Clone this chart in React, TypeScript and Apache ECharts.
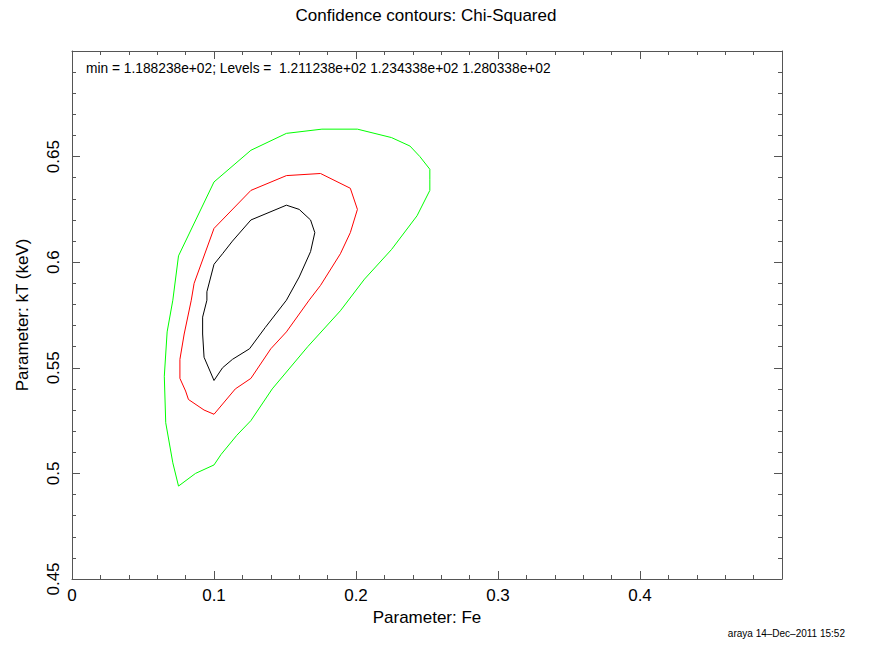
import React, { useEffect, useRef } from "react";
import * as echarts from "echarts";

const titleText = "Confidence contours: Chi-Squared";
const annotation = "min = 1.188238e+02; Levels =  1.211238e+02 1.234338e+02 1.280338e+02";
const footer = "araya 14\u2013Dec\u20132011 15:52";
const xName = "Parameter: Fe";
const yName = "Parameter: kT (keV)";

const xTicks = [0, 0.1, 0.2, 0.3, 0.4];
const yTicks = [0.45, 0.5, 0.55, 0.6, 0.65];

const levelNames = ["1.211238e+02", "1.234338e+02", "1.280338e+02"];
const levelColors = ["#000000", "#ff0000", "#00ff00"];

const blackContour: number[][] = [
  [0.100, 0.544], [0.106, 0.550], [0.113, 0.554], [0.125, 0.559], [0.136, 0.569],
  [0.151, 0.582], [0.160, 0.593], [0.168, 0.605], [0.171, 0.614], [0.168, 0.620],
  [0.160, 0.625], [0.151, 0.627], [0.126, 0.620], [0.113, 0.610], [0.106, 0.604],
  [0.100, 0.599], [0.095, 0.586], [0.095, 0.582], [0.092, 0.574], [0.092, 0.566],
  [0.093, 0.555], [0.100, 0.544],
];

const redContour: number[][] = [
  [0.100, 0.528], [0.115, 0.540], [0.126, 0.545], [0.140, 0.559], [0.151, 0.567],
  [0.167, 0.582], [0.175, 0.589], [0.189, 0.604], [0.196, 0.614], [0.201, 0.625],
  [0.196, 0.635], [0.175, 0.642], [0.151, 0.641], [0.126, 0.634], [0.100, 0.616],
  [0.086, 0.590], [0.084, 0.582], [0.079, 0.566], [0.076, 0.554], [0.076, 0.545],
  [0.080, 0.539], [0.082, 0.535], [0.093, 0.530], [0.100, 0.528],
];

const greenContour: number[][] = [
  [0.075, 0.494], [0.087, 0.500], [0.100, 0.504], [0.105, 0.509], [0.116, 0.518],
  [0.126, 0.525], [0.141, 0.540], [0.166, 0.560], [0.189, 0.577], [0.206, 0.592],
  [0.225, 0.606], [0.243, 0.622], [0.252, 0.634], [0.252, 0.639], [0.252, 0.644],
  [0.245, 0.650], [0.238, 0.655], [0.225, 0.659], [0.201, 0.663], [0.176, 0.663],
  [0.151, 0.661], [0.126, 0.653], [0.100, 0.638], [0.075, 0.603], [0.071, 0.582],
  [0.067, 0.567], [0.065, 0.546], [0.066, 0.524], [0.071, 0.505], [0.075, 0.494],
];

const contours = [blackContour, redContour, greenContour];

const FONT = "'Liberation Sans', Arial, Helvetica, sans-serif";
const AXIS_COLOR = "#555555";

export default function App() {
  const ref = useRef<HTMLDivElement>(null);

  useEffect(() => {
    if (!ref.current) return;
    const chart = echarts.init(ref.current, undefined, { renderer: "svg" });
    const gridLeft = 72;
    const gridTop = 51;
    const gridRight = 91;
    const gridBottom = 70;

    const fmt = (list: number[]) => (v: number) => {
      const hit = list.find((t) => Math.abs(t - v) < 1e-9);
      return hit === undefined ? "" : String(hit);
    };

    const baseX = {
      type: "value" as const,
      min: 0,
      max: 0.5,
      interval: 0.1,
      axisLine: { show: true, onZero: false, lineStyle: { color: AXIS_COLOR, width: 1 } },
      axisTick: { show: true, inside: true, length: 8, lineStyle: { color: AXIS_COLOR } },
      minorTick: { show: true, splitNumber: 5, length: 4, lineStyle: { color: AXIS_COLOR } },
      splitLine: { show: false },
    };
    const baseY = {
      type: "value" as const,
      min: 0.45,
      max: 0.7,
      interval: 0.05,
      axisLine: { show: true, onZero: false, lineStyle: { color: AXIS_COLOR, width: 1 } },
      axisTick: { show: true, inside: true, length: 8, lineStyle: { color: AXIS_COLOR } },
      minorTick: { show: true, splitNumber: 5, length: 4, lineStyle: { color: AXIS_COLOR } },
      splitLine: { show: false },
    };

    chart.setOption({
      animation: false,
      backgroundColor: "#ffffff",
      grid: { left: gridLeft, top: gridTop, right: gridRight, bottom: gridBottom, containLabel: false },
      xAxis: [
        {
          ...baseX,
          position: "bottom",
          name: xName,
          nameLocation: "middle",
          nameGap: 26,
          nameTextStyle: { color: "#000", fontSize: 17, fontFamily: FONT },
          axisLabel: {
            show: true,
            color: "#000",
            fontSize: 17,
            fontFamily: FONT,
            margin: 8,
            formatter: fmt(xTicks),
          },
        },
        {
          ...baseX,
          position: "top",
          axisLabel: { show: false },
        },
      ],
      yAxis: [
        {
          ...baseY,
          position: "left",
          name: yName,
          nameLocation: "middle",
          nameGap: 41,
          nameRotate: 90,
          nameTextStyle: { color: "#000", fontSize: 17, fontFamily: FONT },
          axisLabel: {
            show: true,
            rotate: 90,
            color: "#000",
            fontSize: 17,
            fontFamily: FONT,
            margin: 10,
            formatter: fmt(yTicks),
          },
        },
        {
          ...baseY,
          position: "right",
          axisLabel: { show: false },
        },
      ],
      series: contours.map((c, i) => ({
        type: "line",
        name: levelNames[i],
        data: c,
        xAxisIndex: 0,
        yAxisIndex: 0,
        showSymbol: false,
        symbol: "none",
        smooth: false,
        lineStyle: { color: levelColors[i], width: 1 },
        z: 3 - i,
      })),
      graphic: [
        {
          type: "text",
          x: 426,
          y: 7,
          style: {
            text: titleText,
            fill: "#000",
            font: `17px ${FONT}`,
            textAlign: "center",
            textVerticalAlign: "top",
          },
        },
        {
          type: "text",
          x: 86,
          y: 61,
          style: {
            text: annotation,
            fill: "#000",
            font: `13.75px ${FONT}`,
            textAlign: "left",
            textVerticalAlign: "top",
          },
        },
        {
          type: "text",
          x: 845,
          y: 628,
          style: {
            text: footer,
            fill: "#000",
            font: `10px ${FONT}`,
            textAlign: "right",
            textVerticalAlign: "top",
          },
        },
      ],
    });

    return () => chart.dispose();
  }, []);

  return (
    <div
      ref={ref}
      style={{ position: "fixed", left: 0, top: 0, width: 873, height: 649 }}
    />
  );
}
